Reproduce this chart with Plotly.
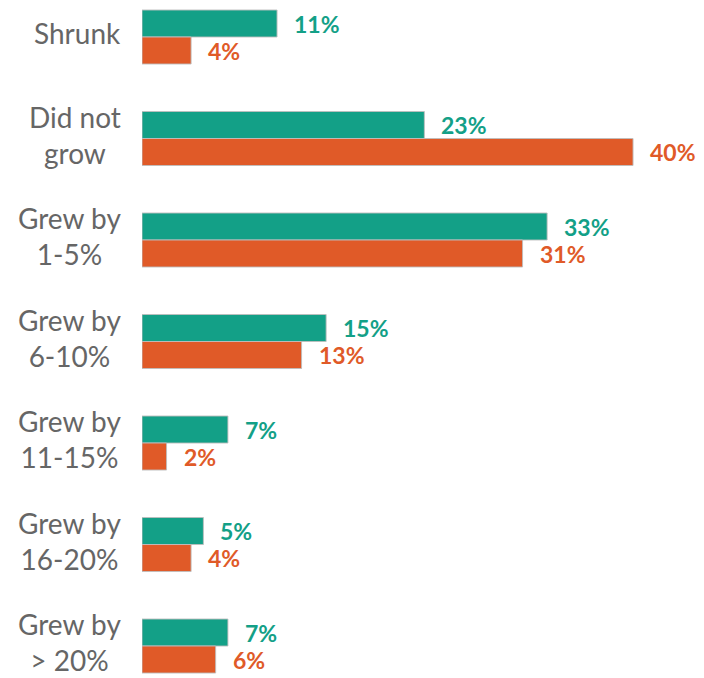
import plotly.graph_objects as go

categories = ["Shrunk", "Did not<br>grow", "Grew by<br>1-5%", "Grew by<br>6-10%",
              "Grew by<br>11-15%", "Grew by<br>16-20%", "Grew by<br>> 20%"]
series_a = [11, 23, 33, 15, 7, 5, 7]
series_b = [4, 40, 31, 13, 2, 4, 6]
teal = "#13A087"
orange = "#E05A28"
border = "rgba(190,190,190,0.9)"

fig = go.Figure()
fig.add_trace(go.Bar(y=categories, x=series_a, orientation="h",
                     marker=dict(color=teal, line=dict(color=border, width=1)), name="A"))
fig.add_trace(go.Bar(y=categories, x=series_b, orientation="h",
                     marker=dict(color=orange, line=dict(color=border, width=1)), name="B"))

annotations = []
for c, a, b in zip(categories, series_a, series_b):
    annotations.append(dict(x=a, y=c, text=f"<b>{a}%</b>", xanchor="left", yanchor="middle",
                            showarrow=False, xshift=15, yshift=13.5,
                            font=dict(color=teal, size=23, family="Lato")))
    annotations.append(dict(x=b, y=c, text=f"<b>{b}%</b>", xanchor="left", yanchor="middle",
                            showarrow=False, xshift=15, yshift=-13.5,
                            font=dict(color=orange, size=23, family="Lato")))
    # category label, centred lines, block right-aligned next to the bars
    annotations.append(dict(x=0, xref="paper", y=c, yref="y", text=c, xanchor="right",
                            yanchor="middle", align="center", showarrow=False,
                            xshift=-19, yshift=4,
                            font=dict(color="#666666", size=28, family="Lato")))

fig.update_layout(
    width=704, height=678,
    margin=dict(l=142, r=0, t=0, b=0),
    barmode="group", bargap=0.468, bargroupgap=0,
    showlegend=False,
    plot_bgcolor="white", paper_bgcolor="white",
    annotations=annotations,
    xaxis=dict(range=[0, 45.78], visible=False),
    yaxis=dict(range=[6.315, -0.3645], showgrid=False, showline=False, zeroline=False,
               ticks="", showticklabels=False),
)
fig.write_html("out.html", config={"displayModeBar": False},
               post_script="document.body.style.margin='0';document.body.style.overflow='hidden';")
